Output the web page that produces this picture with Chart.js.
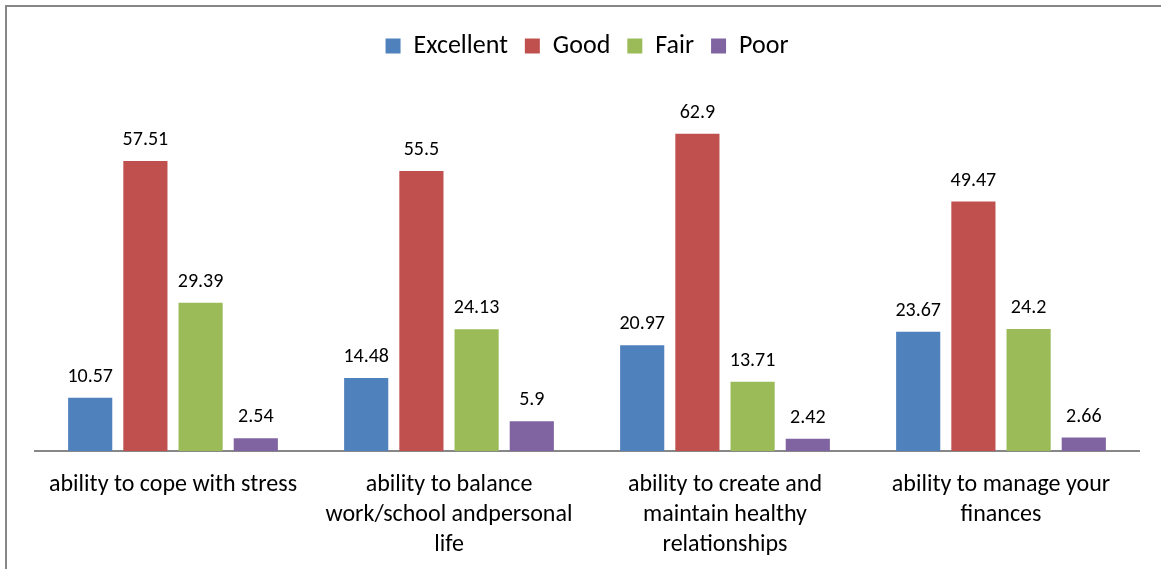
<!DOCTYPE html>
<html>
<head>
<meta charset="utf-8">
<script src="https://cdn.jsdelivr.net/npm/chart.js@4"></script>
<style>
    body { margin: 0; background: #fff; }
    #wrap { position: relative; width: 1161px; height: 569px; }
</style>
</head>
<body>
<div id="wrap"><canvas id="chart"></canvas></div>
<script>
// Data
const categories = [
    'ability to cope with stress',
    ['ability to balance', 'work/school andpersonal', 'life'],
    ['ability to create and', 'maintain healthy', 'relationships'],
    ['ability to manage your', 'finances']
];
const seriesNames = ['Excellent', 'Good', 'Fair', 'Poor'];
const excellent = [10.57, 14.48, 20.97, 23.67];
const good = [57.51, 55.5, 62.9, 49.47];
const fair = [29.39, 24.13, 13.71, 24.2];
const poor = [2.54, 5.9, 2.42, 2.66];
const colors = ['#4F81BD', '#C0504D', '#9BBB59', '#8064A2'];

const fontFamily = 'Carlito, Calibri, Lato, sans-serif';

// Bingkai abu-abu di kiri dan atas
const frame = {
    id: 'frame',
    beforeDraw(chart) {
        const ctx = chart.ctx;
        ctx.save();
        ctx.strokeStyle = '#878787';
        ctx.lineWidth = 2;
        ctx.strokeRect(6, 6, 1400, 800);
        ctx.restore();
    }
};

// Tinggi legend tetap
const legendHeight = {
    id: 'legendHeight',
    beforeInit(chart) {
        const fit = chart.legend.fit;
        chart.legend.fit = function() {
            fit.bind(chart.legend)();
            this.height = 82;
        };
    }
};

// Label nilai di atas batang
const valueLabels = {
    id: 'valueLabels',
    afterDatasetsDraw(chart) {
        const ctx = chart.ctx;
        ctx.save();
        ctx.font = '20px ' + fontFamily;
        ctx.fillStyle = '#000';
        ctx.textAlign = 'center';
        ctx.textBaseline = 'middle';
        chart.data.datasets.forEach((ds, i) => {
            chart.getDatasetMeta(i).data.forEach((bar, j) => {
                ctx.fillText(String(ds.data[j]), bar.x, bar.y - 21);
            });
        });
        ctx.restore();
    }
};

const seriesData = [excellent, good, fair, poor];

new Chart(document.getElementById('chart'), {
    type: 'bar',
    data: {
        labels: categories,
        datasets: seriesNames.map((name, i) => ({
            label: name,
            data: seriesData[i],
            backgroundColor: colors[i],
            borderWidth: 0,
            barPercentage: 0.8,
            categoryPercentage: 0.8
        }))
    },
    options: {
        responsive: true,
        maintainAspectRatio: false,
        animation: false,
        layout: { padding: { left: 35, right: 22, top: 16, bottom: 0 } },
        scales: {
            x: {
                grid: { display: false },
                border: { display: true, color: '#878787', width: 2 },
                ticks: {
                    color: '#000',
                    font: { family: fontFamily, size: 24, lineHeight: 1.25 },
                    padding: 11,
                    maxRotation: 0,
                    autoSkip: false
                },
                afterFit(scale) { scale.height = 118; }
            },
            y: {
                display: false,
                min: 0,
                max: 70
            }
        },
        plugins: {
            legend: {
                position: 'top',
                labels: {
                    boxWidth: 15,
                    boxHeight: 15,
                    padding: 17,
                    color: '#000',
                    font: { family: fontFamily, size: 26 }
                }
            },
            tooltip: { enabled: false }
        }
    },
    plugins: [frame, legendHeight, valueLabels]
});
</script>
</body>
</html>
